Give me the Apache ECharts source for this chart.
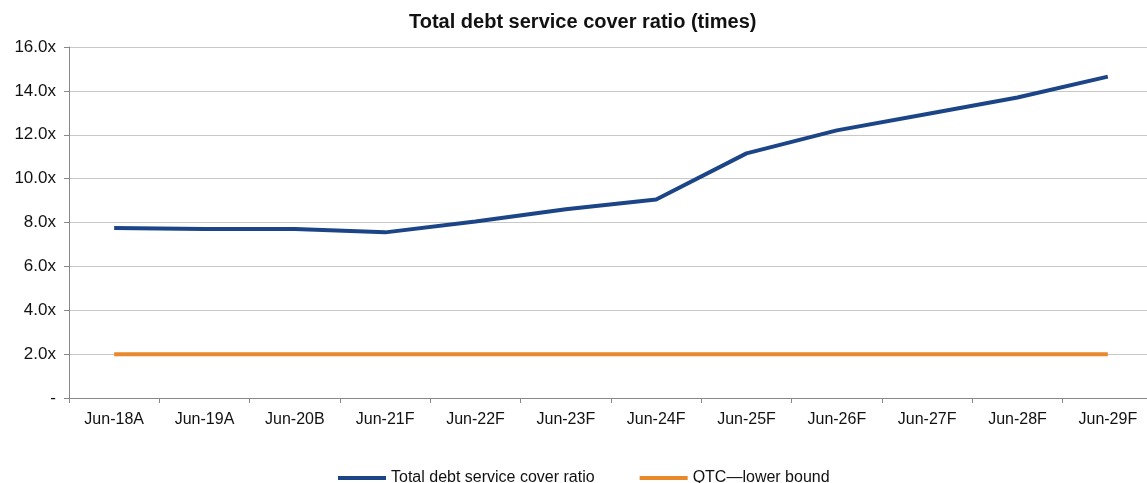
<!DOCTYPE html>
<html><head><meta charset="utf-8">
<script src="https://cdn.jsdelivr.net/npm/echarts@6/dist/echarts.min.js"></script>
<style>html,body{margin:0;padding:0;background:#fff;overflow:hidden}#c{width:1153px;height:483px}</style>
</head><body><div id="c"></div>
<script>
const categories = ['Jun-18A','Jun-19A','Jun-20B','Jun-21F','Jun-22F','Jun-23F','Jun-24F','Jun-25F','Jun-26F','Jun-27F','Jun-28F','Jun-29F'];
const dscr = [7.75, 7.7, 7.7, 7.55, 8.05, 8.6, 9.05, 11.15, 12.2, 12.95, 13.7, 14.65];
const qtcLower = [2.0, 2.0, 2.0, 2.0, 2.0, 2.0, 2.0, 2.0, 2.0, 2.0, 2.0, 2.0];
const seriesNames = ['Total debt service cover ratio', 'QTC\u2014lower bound'];
const font = "'Liberation Sans',Arial,sans-serif";
const chart = echarts.init(document.getElementById('c'));
chart.setOption({
  animation: false,
  title: { text: 'Total debt service cover ratio (times)', left: 404, top: 7,
    textStyle: { fontFamily: font, fontSize: 20, fontWeight: 'bold', color: '#111' } },
  legend: { top: 465, left: 333, itemWidth: 48, itemHeight: 4, itemGap: 45,
    textStyle: { fontFamily: font, fontSize: 16, color: '#111' },
    data: [{name: seriesNames[0], icon: 'rect'}, {name: seriesNames[1], icon: 'rect'}] },
  grid: { left: 69, right: 0, top: 47, bottom: 85 },
  xAxis: { type: 'category', data: categories, boundaryGap: true,
    axisLine: { lineStyle: { color: '#888' } },
    axisTick: { show: true, length: 5, lineStyle: { color: '#888' } },
    axisLabel: { fontFamily: font, fontSize: 16, color: '#111', margin: 14 } },
  yAxis: { type: 'value', min: 0, max: 16, interval: 2,
    axisLine: { show: true, lineStyle: { color: '#888' } },
    axisTick: { show: true, length: 5, lineStyle: { color: '#888' } },
    splitLine: { lineStyle: { color: '#c8c8c8' } },
    axisLabel: { fontFamily: font, fontSize: 17, color: '#111', margin: 13,
      formatter: v => v === 0 ? '-' : v.toFixed(1) + 'x' } },
  series: [
    { name: seriesNames[0], type: 'line', data: dscr, symbol: 'none',
      lineStyle: { width: 4, color: '#1c4587' }, itemStyle: { color: '#1c4587' } },
    { name: seriesNames[1], type: 'line', data: qtcLower, symbol: 'none',
      lineStyle: { width: 4, color: '#e8892b' }, itemStyle: { color: '#e8892b' } }
  ]
});
</script></body></html>
